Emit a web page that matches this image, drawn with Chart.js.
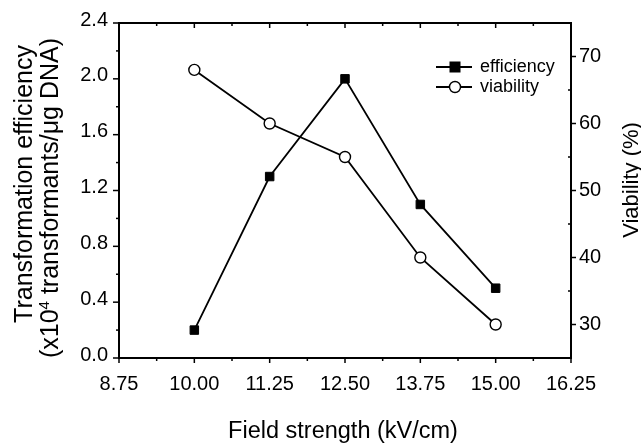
<!DOCTYPE html>
<html>
<head>
<meta charset="utf-8">
<script src="https://cdn.jsdelivr.net/npm/chart.js@4"></script>
<style>
  html, body { margin: 0; padding: 0; background: #fff; }
  #wrap { width: 641px; height: 445px; }
</style>
</head>
<body>
<div id="wrap"><canvas id="chart"></canvas></div>
<script>
// Datos
const fieldStrength = [10.00, 11.25, 12.50, 13.75, 15.00];
const efficiency = [0.2, 1.3, 2.0, 1.1, 0.5];
const viability = [68, 60, 55, 40, 30];

const FONT = '"Liberation Sans", Arial, sans-serif';
Chart.defaults.color = '#000';
Chart.defaults.font.family = FONT;

// Marco y marcas de escala (mayores y menores)
const framePlugin = {
    id: 'frame',
    beforeDatasetsDraw(chart) {
        const { ctx, chartArea: a, scales } = chart;
        ctx.save();
        ctx.strokeStyle = '#000';
        ctx.lineWidth = 2;
        ctx.strokeRect(a.left, a.top, a.right - a.left, a.bottom - a.top);
        ctx.lineWidth = 1.5;
        const tick = (x1, y1, x2, y2) => {
            ctx.beginPath(); ctx.moveTo(x1, y1); ctx.lineTo(x2, y2); ctx.stroke();
        };
        // eje x: abajo hacia fuera, arriba hacia dentro
        const x = scales.x;
        for (let i = 0; i <= 12; i++) {
            const v = x.min + i * 0.625;
            const px = x.getPixelForValue(v);
            const len = i % 2 === 0 ? 5 : 3;
            tick(px, a.bottom, px, a.bottom + len);
            tick(px, a.top, px, a.top + len);
        }
        const y = scales.y;
        for (let i = 0; i <= 12; i++) {
            const py = y.getPixelForValue(i * 0.2);
            const len = i % 2 === 0 ? 6 : 3;
            tick(a.left - len, py, a.left, py);
        }
        const y2 = scales.y2;
        for (let v = 25; v <= 75; v += 5) {
            const py = y2.getPixelForValue(v);
            if (v % 10 === 0) tick(a.right, py, a.right + 5, py);
            else tick(a.right - 3, py, a.right, py);
        }
        ctx.restore();
    },
    afterDraw(chart) {
        const { ctx } = chart;
        ctx.save();
        ctx.fillStyle = '#000';
        ctx.textBaseline = 'alphabetic';

        // título eje x
        ctx.font = '23.5px ' + FONT;
        ctx.textAlign = 'center';
        ctx.fillText('Field strength (kV/cm)', 343, 438);

        // título eje y izquierdo (dos líneas)
        ctx.save();
        ctx.translate(32, 184);
        ctx.rotate(-Math.PI / 2);
        ctx.font = '25px ' + FONT;
        ctx.fillText('Transformation efficiency', 0, 0);
        ctx.restore();

        ctx.save();
        ctx.translate(58, 198);
        ctx.rotate(-Math.PI / 2);
        const p1 = '(x10', p2 = '4', p3 = ' transformants/\u03bcg DNA)';
        ctx.font = '25px ' + FONT;
        const w1 = ctx.measureText(p1).width;
        const w3 = ctx.measureText(p3).width;
        ctx.font = '15px ' + FONT;
        const w2 = ctx.measureText(p2).width;
        const sx = -(w1 + w2 + w3) / 2;
        ctx.textAlign = 'left';
        ctx.font = '25px ' + FONT;
        ctx.fillText(p1, sx, 0);
        ctx.font = '15px ' + FONT;
        ctx.fillText(p2, sx + w1, -9);
        ctx.font = '25px ' + FONT;
        ctx.fillText(p3, sx + w1 + w2, 0);
        ctx.restore();

        // título eje y derecho
        ctx.save();
        ctx.translate(638, 180);
        ctx.rotate(-Math.PI / 2);
        ctx.font = '22px ' + FONT;
        ctx.textAlign = 'center';
        ctx.fillText('Viability (%)', 0, 0);
        ctx.restore();

        // leyenda
        const items = [
            { label: 'efficiency', ds: chart.data.datasets[0], y: 67 },
            { label: 'viability', ds: chart.data.datasets[1], y: 87 }
        ];
        ctx.font = '18px ' + FONT;
        ctx.textAlign = 'left';
        ctx.textBaseline = 'middle';
        items.forEach(it => {
            ctx.strokeStyle = '#000';
            ctx.lineWidth = 1.8;
            ctx.beginPath(); ctx.moveTo(436, it.y); ctx.lineTo(472, it.y); ctx.stroke();
            ctx.lineWidth = it.ds.pointBorderWidth;
            ctx.beginPath();
            if (it.ds.pointStyle === 'rect') {
                ctx.fillStyle = '#000';
                ctx.fillRect(455 - 5.5, it.y - 5.5, 11, 11);
            } else {
                ctx.arc(455, it.y, it.ds.pointRadius, 0, Math.PI * 2);
                ctx.fillStyle = '#fff';
                ctx.fill();
                ctx.stroke();
            }
            ctx.fillStyle = '#000';
            ctx.fillText(it.label, 480, it.y);
        });
        ctx.restore();
    }
};

new Chart(document.getElementById('chart'), {
    type: 'line',
    data: {
        datasets: [{
            label: 'efficiency',
            data: fieldStrength.map((x, i) => ({ x: x, y: efficiency[i] })),
            yAxisID: 'y',
            borderColor: '#000',
            borderWidth: 1.8,
            pointStyle: 'rect',
            pointRadius: 6,
            pointBackgroundColor: '#000',
            pointBorderColor: '#000',
            pointBorderWidth: 1,
            tension: 0
        }, {
            label: 'viability',
            data: fieldStrength.map((x, i) => ({ x: x, y: viability[i] })),
            yAxisID: 'y2',
            borderColor: '#000',
            borderWidth: 1.8,
            pointStyle: 'circle',
            pointRadius: 5.5,
            pointBackgroundColor: '#fff',
            pointBorderColor: '#000',
            pointBorderWidth: 1.4,
            tension: 0
        }]
    },
    options: {
        responsive: true,
        maintainAspectRatio: false,
        animation: false,
        layout: { padding: { top: 20, left: 0, right: 0, bottom: 0 } },
        plugins: {
            legend: { display: false },
            tooltip: { enabled: false }
        },
        scales: {
            x: {
                type: 'linear',
                min: 8.75,
                max: 16.25,
                afterFit: s => { s.height = 87; },
                grid: { display: false, drawTicks: false },
                border: { display: false },
                ticks: {
                    stepSize: 1.25,
                    padding: 14,
                    maxRotation: 0,
                    autoSkip: false,
                    font: { size: 20 },
                    callback: v => v.toFixed(2)
                }
            },
            y: {
                position: 'left',
                min: 0,
                max: 2.4,
                afterFit: s => { s.width = 119; },
                grid: { display: false, drawTicks: false },
                border: { display: false },
                ticks: {
                    stepSize: 0.4,
                    padding: 11,
                    labelOffset: -3,
                    font: { size: 20 },
                    callback: v => v.toFixed(1)
                }
            },
            y2: {
                position: 'right',
                min: 25,
                max: 75,
                afterFit: s => { s.width = 70; },
                grid: { display: false, drawTicks: false },
                border: { display: false },
                ticks: {
                    stepSize: 5,
                    padding: 8,
                    autoSkip: false,
                    font: { size: 20 },
                    callback: v => (v % 10 === 0 ? String(v) : '')
                }
            }
        }
    },
    plugins: [framePlugin]
});
</script>
</body>
</html>
